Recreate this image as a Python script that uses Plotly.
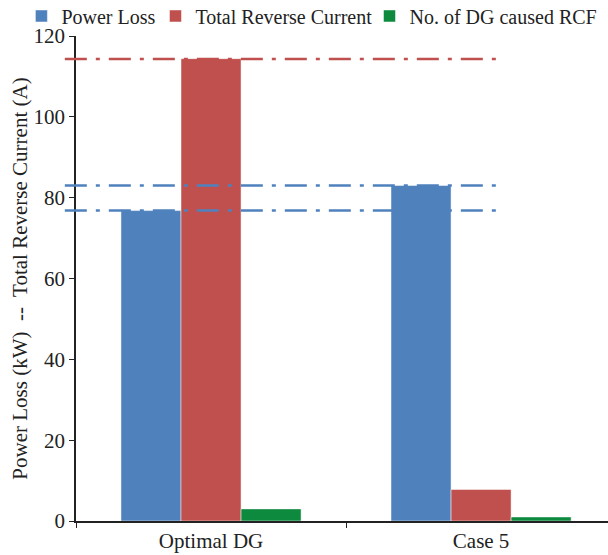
import plotly.graph_objects as go

categories = ["Optimal DG", "Case 5"]
power_loss = [76.8, 83.0]
reverse_current = [114.4, 7.8]
num_dg_rcf = [3, 1]
series_names = ["Power Loss", "Total Reverse Current", "No. of DG caused RCF"]
ref_lines = [114.3, 83.0, 76.8]
ref_colors = ["#C0504D", "#4F81BD", "#4F81BD"]
y_ticks = [0, 20, 40, 60, 80, 100, 120]

colors = ["#4F81BD", "#C0504D", "#0E8A3F"]
FONT = "Liberation Serif, Times New Roman, serif"
FS = 21
LFS = 20
legend_ids = ["legend", "legend2", "legend3"]
legend_x = [-0.1026, 0.1494, 0.5517]

fig = go.Figure()
for name, vals, col, lid in zip(series_names, [power_loss, reverse_current, num_dg_rcf], colors, legend_ids):
    fig.add_trace(go.Bar(
        x=categories, y=vals, name=name, legend=lid,
        marker=dict(color=col, line=dict(color="rgba(255,255,255,0.6)", width=0.8)),
    ))

shapes = []
for yv, col in zip(ref_lines, ref_colors):
    shapes.append(dict(
        type="line", xref="paper", yref="y",
        x0=-0.021, x1=0.791, y0=yv, y1=yv,
        line=dict(color=col, width=2.5, dash="22px,9px,4px,9px"),
        layer="above",
    ))

legend_common = dict(
    orientation="h", y=1.0815, xanchor="left", yanchor="top",
    font=dict(family=FONT, size=LFS, color="#222222"),
    itemwidth=30, bgcolor="rgba(0,0,0,0)", borderwidth=0,
)

fig.update_layout(
    width=608, height=555,
    margin=dict(l=76, r=0, t=36, b=34, autoexpand=False),
    paper_bgcolor="white", plot_bgcolor="white",
    font=dict(family=FONT, size=FS, color="#222222"),
    barmode="group", bargap=0.333, bargroupgap=0,
    shapes=shapes,
    showlegend=True,
    legend=dict(x=legend_x[0], **legend_common),
    legend2=dict(x=legend_x[1], **legend_common),
    legend3=dict(x=legend_x[2], **legend_common),
    xaxis=dict(
        range=[-0.5, 1.47], showline=True, linecolor="#222222", linewidth=1.5,
        ticks="outside", tickson="boundaries", ticklen=5, tickcolor="#222222",
        showgrid=False, zeroline=False,
        tickfont=dict(family=FONT, size=FS, color="#222222"),
    ),
    yaxis=dict(
        range=[0, 120], tickvals=y_ticks, showline=True, linecolor="#222222",
        linewidth=1.5, ticks="outside", ticklen=5, tickcolor="#222222",
        showgrid=False, zeroline=False,
        tickfont=dict(family=FONT, size=FS, color="#222222"),
        title=dict(text="Power Loss (kW)  --  Total Reverse Current (A)",
                   font=dict(family=FONT, size=FS, color="#222222"), standoff=0),
    ),
)

fig.write_html(
    "out.html",
    config={"displayModeBar": False},
    post_script="document.body.style.margin='0px';document.body.style.overflow='hidden';",
)
